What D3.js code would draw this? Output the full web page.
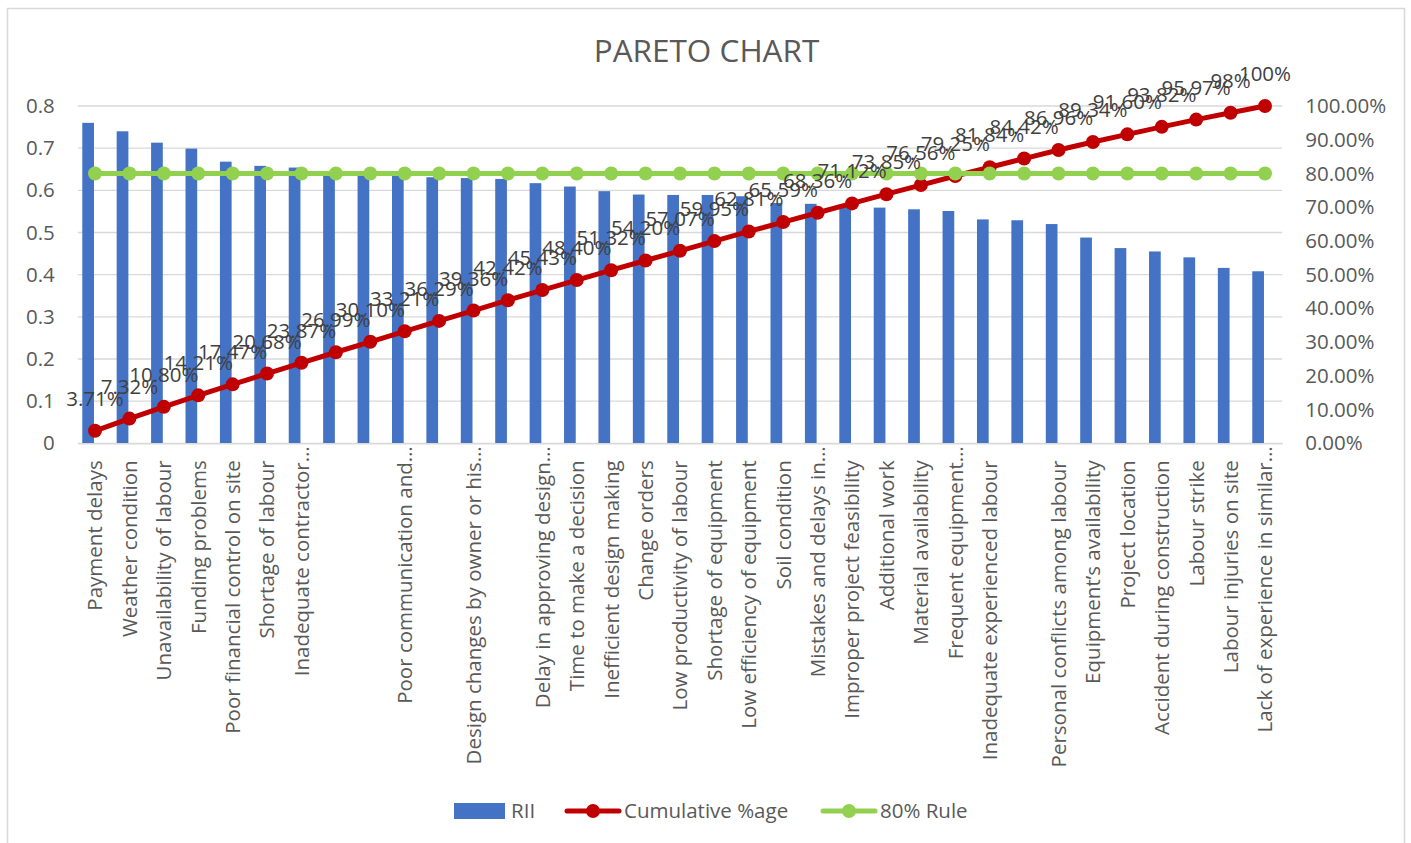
<!DOCTYPE html>
<html>
<head>
<meta charset="utf-8">
<script src="https://cdn.jsdelivr.net/npm/d3@7"></script>
<style>
  html, body { margin: 0; padding: 0; background: #ffffff; }
  svg { display: block; font-family: "Open Sans", "Noto Sans", sans-serif; }
</style>
</head>
<body>
<svg id="chart" width="1411" height="843"></svg>
<script>
// Delay causes, ranked by Relative Importance Index (RII)
const categories = [
  "Payment delays", "Weather condition", "Unavailability of labour", "Funding problems",
  "Poor financial control on site", "Shortage of labour", "Inadequate contractor\u2026", "", "",
  "Poor communication and\u2026", "", "Design changes by owner or his\u2026", "",
  "Delay in approving design\u2026", "Time to make a decision", "Inefficient design making",
  "Change orders", "Low productivity of labour", "Shortage of equipment",
  "Low efficiency of equipment", "Soil condition", "Mistakes and delays in\u2026",
  "Improper project feasibility", "Additional work", "Material availability",
  "Frequent equipment\u2026", "Inadequate experienced labour", "",
  "Personal conflicts among labour", "Equipment\u2019s availability", "Project location",
  "Accident during construction", "Labour strike", "Labour injuries on site",
  "Lack of experience in similar\u2026"
];

const rii = [
  0.760, 0.740, 0.713, 0.699, 0.668, 0.658, 0.654, 0.639, 0.637, 0.637,
  0.631, 0.629, 0.627, 0.617, 0.609, 0.598, 0.590, 0.589, 0.589, 0.586,
  0.570, 0.568, 0.566, 0.559, 0.555, 0.551, 0.531, 0.529, 0.520, 0.488,
  0.463, 0.455, 0.441, 0.416, 0.408
];

// Cumulative share in percent
const cumulative = [
  3.71, 7.32, 10.80, 14.21, 17.47, 20.68, 23.87, 26.99, 30.10, 33.21,
  36.29, 39.36, 42.42, 45.43, 48.40, 51.32, 54.20, 57.07, 59.95, 62.81,
  65.59, 68.36, 71.12, 73.85, 76.56, 79.25, 81.84, 84.42, 86.96, 89.34,
  91.60, 93.82, 95.97, 98, 100
];

// 80% reference line
const rule80 = categories.map(() => 80);

const leftTicks = [0, 0.1, 0.2, 0.3, 0.4, 0.5, 0.6, 0.7, 0.8];
const rightTicks = [0, 10, 20, 30, 40, 50, 60, 70, 80, 90, 100];

const C = {
  text: "#595959",
  grid: "#d9d9d9",
  bar: "#4472C4",
  cum: "#C00000",
  rule: "#92D050"
};

const svg = d3.select("#chart");

// Chart frame
svg.append("rect")
  .attr("x", 7.5).attr("y", 8.5)
  .attr("width", 1397).attr("height", 860)
  .attr("fill", "#ffffff")
  .attr("stroke", C.grid).attr("stroke-width", 1.5);

const plot = { left: 77.8, right: 1282.2, top: 106, bottom: 443.3 };

const x = d3.scaleBand()
  .domain(d3.range(categories.length))
  .range([plot.left, plot.right])
  .padding(0);
const bw = x.bandwidth();
const cx = i => x(i) + bw / 2;

const yL = d3.scaleLinear().domain([0, 0.8]).range([plot.bottom, plot.top]);
const yR = d3.scaleLinear().domain([0, 100]).range([plot.bottom, plot.top]);

// Title
svg.append("text")
  .attr("x", 706.5).attr("y", 62)
  .attr("text-anchor", "middle")
  .attr("fill", C.text)
  .style("font-size", "31.5px")
  .text("PARETO CHART");

// Horizontal gridlines
svg.append("g")
  .selectAll("line")
  .data(leftTicks)
  .join("line")
  .attr("x1", plot.left).attr("x2", plot.right)
  .attr("y1", d => yL(d)).attr("y2", d => yL(d))
  .attr("stroke", C.grid).attr("stroke-width", 1.3);

// Left axis (RII)
const axL = svg.append("g")
  .attr("transform", `translate(${plot.left - 23},0)`)
  .call(d3.axisLeft(yL).tickValues(leftTicks).tickSize(0).tickPadding(0)
    .tickFormat(d => d === 0 ? "0" : d3.format(".1f")(d)));
axL.select(".domain").remove();
axL.selectAll("text")
  .attr("fill", C.text)
  .style("font-size", "20.5px")
  .style("font-family", "'Open Sans', sans-serif");

// Right axis (cumulative %)
const axR = svg.append("g")
  .attr("transform", `translate(${plot.right + 23},0)`)
  .call(d3.axisRight(yR).tickValues(rightTicks).tickSize(0).tickPadding(0)
    .tickFormat(d => d3.format(".2f")(d) + "%"));
axR.select(".domain").remove();
axR.selectAll("text")
  .attr("fill", C.text)
  .style("font-size", "20.5px")
  .style("font-family", "'Open Sans', sans-serif");

// Bars
svg.append("g")
  .selectAll("rect")
  .data(rii)
  .join("rect")
  .attr("x", (d, i) => x(i) + bw * 0.13)
  .attr("width", bw * 0.34)
  .attr("y", d => yL(d))
  .attr("height", d => yL(0) - yL(d))
  .attr("fill", C.bar);

// Category axis
const axB = svg.append("g")
  .attr("transform", `translate(0,${plot.bottom})`)
  .call(d3.axisBottom(x).tickSize(0).tickFormat(i => categories[i]));
axB.select(".domain")
  .attr("stroke", C.grid).attr("stroke-width", 1.5);
axB.selectAll("text")
  .attr("fill", C.text)
  .style("font-size", "20.5px")
  .style("font-family", "'Open Sans', sans-serif")
  .style("text-anchor", "end")
  .attr("transform", "rotate(-90)")
  .attr("y", 0)
  .attr("dy", "0.36em")
  .attr("x", (d) => categories[d].endsWith("\u2026") ? -3 : -17);

// Cumulative line
const line = d3.line().x((d, i) => cx(i)).y(d => yR(d));

svg.append("path")
  .datum(cumulative)
  .attr("d", line)
  .attr("fill", "none")
  .attr("stroke", C.cum).attr("stroke-width", 5)
  .attr("stroke-linejoin", "round");
svg.append("g")
  .selectAll("circle")
  .data(cumulative)
  .join("circle")
  .attr("cx", (d, i) => cx(i)).attr("cy", d => yR(d))
  .attr("r", 7).attr("fill", C.cum);

// 80% rule line
svg.append("path")
  .datum(rule80)
  .attr("d", line)
  .attr("fill", "none")
  .attr("stroke", C.rule).attr("stroke-width", 5);
svg.append("g")
  .selectAll("circle")
  .data(rule80)
  .join("circle")
  .attr("cx", (d, i) => cx(i)).attr("cy", d => yR(d))
  .attr("r", 7).attr("fill", C.rule);

// Cumulative data labels
const pct = v => Number.isInteger(v) ? `${v}%` : `${v.toFixed(2)}%`;
svg.append("g")
  .selectAll("text")
  .data(cumulative)
  .join("text")
  .attr("x", (d, i) => cx(i))
  .attr("y", d => yR(d) - 25)
  .attr("text-anchor", "middle")
  .attr("fill", "#404040")
  .style("font-size", "20.5px")
  .text(pct);

// Legend
const lg = svg.append("g").style("font-size", "20.5px").attr("fill", C.text);
lg.append("rect").attr("x", 454).attr("y", 803).attr("width", 51).attr("height", 16).attr("fill", C.bar);
lg.append("text").attr("x", 511).attr("y", 818).text("RII");

lg.append("line").attr("x1", 567).attr("x2", 619).attr("y1", 811).attr("y2", 811)
  .attr("stroke", C.cum).attr("stroke-width", 5).attr("stroke-linecap", "round");
lg.append("circle").attr("cx", 593).attr("cy", 811).attr("r", 7).attr("fill", C.cum);
lg.append("text").attr("x", 624).attr("y", 818).text("Cumulative %age");

lg.append("line").attr("x1", 823).attr("x2", 875).attr("y1", 811).attr("y2", 811)
  .attr("stroke", C.rule).attr("stroke-width", 5).attr("stroke-linecap", "round");
lg.append("circle").attr("cx", 849).attr("cy", 811).attr("r", 7).attr("fill", C.rule);
lg.append("text").attr("x", 880).attr("y", 818).text("80% Rule");
</script>
</body>
</html>
